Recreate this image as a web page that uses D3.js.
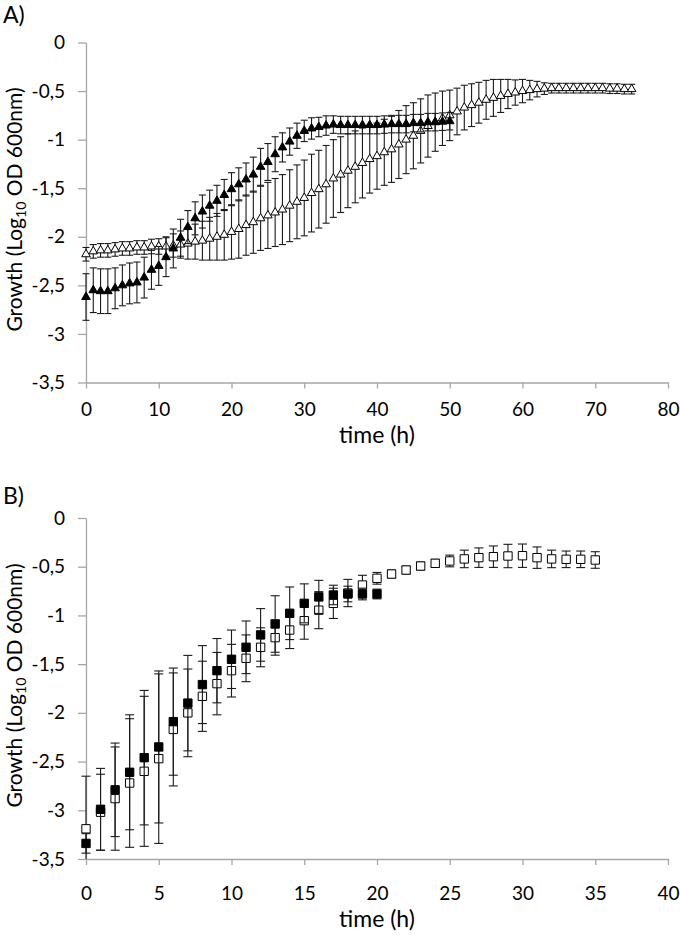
<!DOCTYPE html>
<html><head><meta charset="utf-8">
<script src="https://cdn.jsdelivr.net/npm/d3@7"></script>
<style>
body{margin:0;background:#fff}
svg{display:block}
text{font-family:Lato,"Open Sans",sans-serif;fill:#000}
</style>
</head><body>
<svg id="c" width="680" height="935"></svg>
<script>
// ---------- Panel A (triangles) ----------
const hoursA1 = [0,1,2,3,4,5,6,7,8,9,10,11,12,13,14,15,16,17,18,19,20,21,22,23,24,25,26,27,28,29,30,31,32,33,34,35,36,37,38,39,40,41,42,43,44,45,46,47,48,49,50];
const valA1 = [-2.62,-2.55,-2.56,-2.56,-2.53,-2.50,-2.48,-2.47,-2.42,-2.34,
  -2.30,-2.21,-2.12,-2.01,-1.90,-1.81,-1.74,-1.68,-1.63,-1.57,
  -1.51,-1.46,-1.41,-1.36,-1.28,-1.23,-1.15,-1.08,-1.02,-0.96,
  -0.91,-0.885,-0.87,-0.855,-0.845,-0.85,-0.85,-0.85,-0.85,-0.85,
  -0.85,-0.845,-0.84,-0.84,-0.84,-0.83,-0.83,-0.82,-0.82,-0.815,-0.81];
const errA1 = [0.24,0.23,0.23,0.23,0.21,0.21,0.21,0.21,0.21,0.20,
  0.20,0.20,0.20,0.19,0.17,0.17,0.17,0.16,0.16,0.16,
  0.17,0.17,0.17,0.18,0.19,0.19,0.18,0.15,0.14,0.13,
  0.11,0.11,0.10,0.10,0.09,0.09,0.09,0.09,0.09,0.09,
  0.09,0.09,0.09,0.09,0.09,0.09,0.09,0.09,0.09,0.09,0.09];
const hoursA2 = [0,1,2,3,4,5,6,7,8,9,10,11,12,13,14,15,16,17,18,19,20,21,22,23,24,25,26,27,28,29,30,31,32,33,34,35,36,37,38,39,40,41,42,43,44,45,46,47,48,49,50,51,52,53,54,55,56,57,58,59,60,61,62,63,64,65,66,67,68,69,70,71,72,73,74,75];
const valA2 = [-2.18,-2.15,-2.14,-2.14,-2.13,-2.12,-2.12,-2.11,-2.11,-2.10,
  -2.10,-2.10,-2.09,-2.08,-2.07,-2.05,-2.04,-2.02,-2.00,-1.98,
  -1.95,-1.92,-1.88,-1.85,-1.81,-1.78,-1.75,-1.72,-1.68,-1.64,
  -1.60,-1.55,-1.51,-1.46,-1.40,-1.36,-1.32,-1.28,-1.24,-1.20,
  -1.17,-1.13,-1.10,-1.05,-1.00,-0.96,-0.91,-0.86,-0.82,-0.78,
  -0.75,-0.71,-0.67,-0.645,-0.62,-0.59,-0.57,-0.55,-0.53,-0.515,
  -0.50,-0.49,-0.48,-0.475,-0.47,-0.47,-0.47,-0.47,-0.47,-0.47,
  -0.47,-0.47,-0.475,-0.475,-0.48,-0.48];
const errA2 = [0.07,0.07,0.07,0.07,0.07,0.07,0.07,0.07,0.07,0.075,
  0.08,0.10,0.12,0.14,0.16,0.18,0.20,0.22,0.24,0.26,
  0.28,0.30,0.31,0.32,0.33,0.34,0.35,0.36,0.37,0.38,
  0.39,0.40,0.40,0.40,0.40,0.39,0.38,0.37,0.36,0.35,
  0.34,0.34,0.34,0.35,0.35,0.34,0.33,0.32,0.30,0.28,
  0.26,0.24,0.23,0.22,0.21,0.20,0.19,0.17,0.15,0.13,
  0.12,0.10,0.08,0.06,0.05,0.05,0.05,0.05,0.05,0.05,
  0.05,0.05,0.05,0.05,0.05,0.05];

// ---------- Panel B (squares) ----------
const hoursB1 = [0,1,2,3,4,5,6,7,8,9,10,11,12,13,14,15,16,17,18,19,20];
const valB1 = [-3.34,-2.99,-2.79,-2.61,-2.46,-2.35,-2.09,-1.90,-1.71,-1.567,
  -1.45,-1.327,-1.20,-1.088,-0.978,-0.876,-0.81,-0.79,-0.78,-0.78,-0.78];
const errB1 = [0.10,0.42,0.48,0.59,0.69,0.78,0.55,0.49,0.40,0.33,
  0.30,0.27,0.27,0.29,0.27,0.20,0.17,0.10,0.08,0.06,0.05];
const hoursB2 = [0,1,2,3,4,5,6,7,8,9,10,11,12,13,14,15,16,17,18,19,20,21,22,23,24,25,26,27,28,29,30,31,32,33,34,35];
const valB2 = [-3.19,-3.02,-2.88,-2.72,-2.60,-2.47,-2.17,-2.00,-1.83,-1.70,
  -1.567,-1.44,-1.327,-1.228,-1.15,-1.054,-0.946,-0.876,-0.77,-0.688,
  -0.619,-0.575,-0.534,-0.493,-0.465,-0.441,-0.42,-0.407,-0.397,-0.39,
  -0.387,-0.407,-0.42,-0.424,-0.424,-0.431];
const errB2 = [0.54,0.39,0.53,0.66,0.77,0.87,0.58,0.45,0.36,0.32,
  0.27,0.24,0.20,0.18,0.19,0.19,0.19,0.155,0.14,0.10,
  0.06,0.04,0.04,0.04,0.04,0.06,0.09,0.10,0.11,0.12,
  0.12,0.11,0.09,0.085,0.085,0.085];

// ---------- ticks ----------
const yTicks = [0,-0.5,-1,-1.5,-2,-2.5,-3,-3.5];
const yTickLabels = ["0","-0,5","-1","-1,5","-2","-2,5","-3","-3,5"];
const xTicksA = [0,10,20,30,40,50,60,70,80];
const xTicksB = [0,5,10,15,20,25,30,35,40];

const svg = d3.select("#c");
const AXIS = "#a6a6a6";

function drawPanel(cfg){
  const g = svg.append("g");
  const x = d3.scaleLinear().domain([0, cfg.xMax]).range([86, 668]);
  const y = d3.scaleLinear().domain([-3.5, 0]).range([cfg.bottom, cfg.top]);

  // axes
  const ya = g.append("g").attr("transform","translate(86,0)")
    .call(d3.axisLeft(y).tickValues(yTicks)
      .tickFormat(d=>yTickLabels[yTicks.indexOf(d)])
      .tickSize(8).tickSizeOuter(0).tickPadding(13));
  const xa = g.append("g").attr("transform",`translate(0,${cfg.bottom})`)
    .call(d3.axisBottom(x).tickValues(cfg.xTicks).tickFormat(d=>String(d))
      .tickSize(6).tickSizeOuter(0).tickPadding(cfg.xPad));
  [ya,xa].forEach(a=>{
    a.attr("font-family",null).attr("font-size",null);
    a.select(".domain").attr("stroke",AXIS).attr("stroke-width",1.3);
    a.selectAll(".tick line").attr("stroke",AXIS).attr("stroke-width",1.3);
    a.selectAll(".tick text").style("font-size","19px").attr("fill","#000");
  });

  // series
  cfg.series.forEach(s=>{
    const pts = s.hours.map((h,i)=>({h, v:s.vals[i], e:s.errs[i]}));
    const sg = g.append("g");
    const cw = s.cap/2;
    pts.forEach(p=>{
      const hi = p.v + p.e, lo = p.v - p.e;
      const hiC = Math.min(hi, 0), loC = Math.max(lo, -3.5);
      const px = x(p.h);
      sg.append("line").attr("x1",px).attr("x2",px)
        .attr("y1",y(hiC)).attr("y2",y(loC))
        .attr("stroke","#1a1a1a").attr("stroke-width",1.1);
      if (hi <= 0) sg.append("line").attr("x1",px-cw).attr("x2",px+cw)
        .attr("y1",y(hi)).attr("y2",y(hi)).attr("stroke","#1a1a1a").attr("stroke-width",1.1);
      if (lo >= -3.5) sg.append("line").attr("x1",px-cw).attr("x2",px+cw)
        .attr("y1",y(lo)).attr("y2",y(lo)).attr("stroke","#1a1a1a").attr("stroke-width",1.1);
    });
    sg.selectAll("path.m").data(pts).join("path").attr("class","m")
      .attr("d", d3.symbol(s.shape, s.size)())
      .attr("transform", d=>`translate(${x(d.h)},${y(d.v)})`)
      .attr("fill", s.filled ? "#000" : "#fff")
      .attr("stroke", "#000").attr("stroke-width", 1);
  });

  // labels
  svg.append("text").attr("x",3).attr("y",cfg.panelY)
    .style("font-size","23px").text(cfg.panel);
  svg.append("text").attr("x",377).attr("y",cfg.titleY)
    .attr("text-anchor","middle").style("font-size","23px").text("time (h)");
  const yl = svg.append("text")
    .attr("transform",`translate(22,${(cfg.top+cfg.bottom)/2 - 3}) rotate(-90)`)
    .attr("text-anchor","middle").style("font-size","21px");
  yl.append("tspan").text("Growth (Log");
  yl.append("tspan").attr("dy","0.3em").style("font-size","14px").text("10");
  yl.append("tspan").attr("dy","-0.2em").text(" OD 600nm)");
}

drawPanel({
  top:42.5, bottom:382.5, xMax:80, xTicks:xTicksA, xPad:14,
  panel:"A)", panelY:23, titleY:443,
  series:[
    {hours:hoursA2, vals:valA2, errs:errA2, shape:d3.symbolTriangle, size:32, filled:false, cap:7},
    {hours:hoursA1, vals:valA1, errs:errA1, shape:d3.symbolTriangle, size:32, filled:true, cap:7}
  ]
});
drawPanel({
  top:518, bottom:859, xMax:40, xTicks:xTicksB, xPad:22,
  panel:"B)", panelY:504, titleY:927,
  series:[
    {hours:hoursB2, vals:valB2, errs:errB2, shape:d3.symbolSquare, size:70, filled:false, cap:9},
    {hours:hoursB1, vals:valB1, errs:errB1, shape:d3.symbolSquare, size:70, filled:true, cap:9}
  ]
});
</script>
</body></html>
